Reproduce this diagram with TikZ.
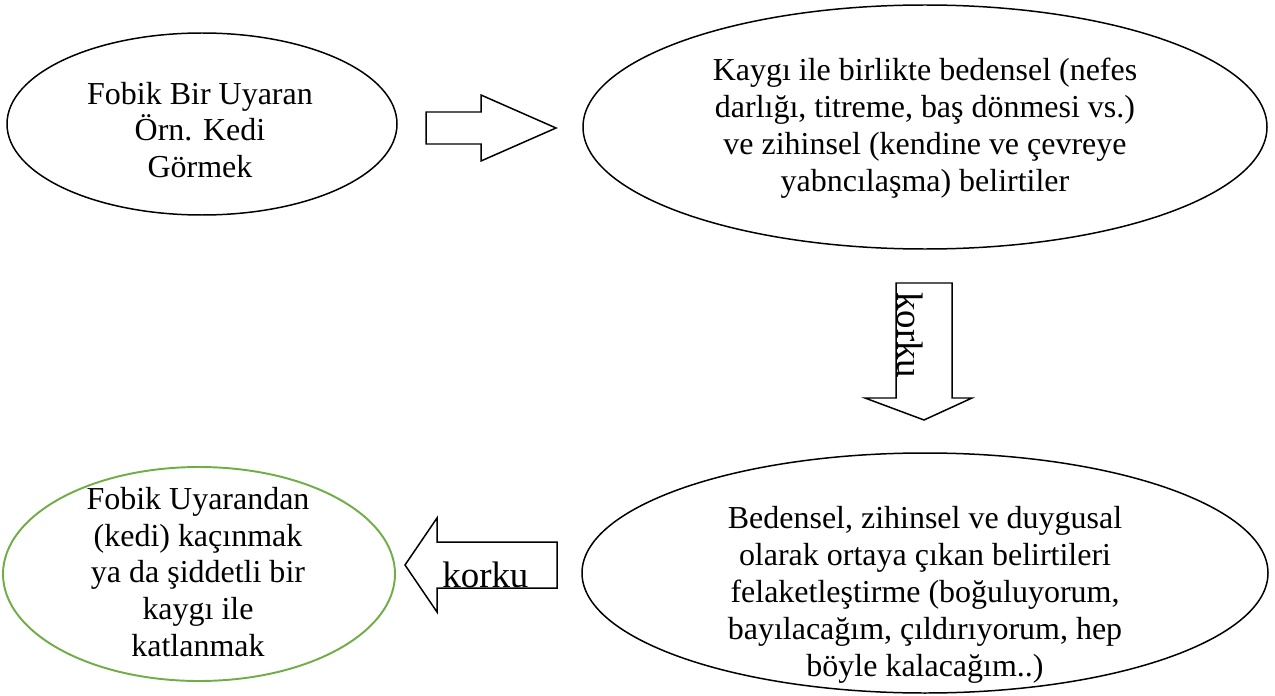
\documentclass[tikz,border=0pt]{standalone}
\usepackage{fontspec}
\setmainfont{Liberation Serif}
\usetikzlibrary{shapes.geometric}
\definecolor{leafgreen}{RGB}{112,173,71}
\begin{document}
\begin{tikzpicture}[x=0.02cm,y=-0.02cm,
  oval/.style={draw=black,line width=0.85pt,ellipse,inner sep=0pt},
  txt/.style={align=center,font=\fontsize{18.2}{21}\selectfont,inner sep=0pt},
  blockarrow/.style={draw=black,line width=0.85pt,fill=white,line join=miter},
  lbl/.style={font=\fontsize{21}{24}\selectfont,inner sep=0pt}]
\useasboundingbox (0,0) rectangle (1275,696);
% ellipses
\node[oval,minimum width=390*0.02cm,minimum height=182*0.02cm] (e1) at (202,124) {};
\node[oval,minimum width=684*0.02cm,minimum height=244*0.02cm] (e2) at (925,127) {};
\node[oval,minimum width=686*0.02cm,minimum height=240*0.02cm] (e3) at (925,573) {};
\node[oval,draw=leafgreen,line width=1.1pt,minimum width=392*0.02cm,minimum height=214*0.02cm] (e4) at (199,574) {};
% texts
\node[txt] (t1) at (200,130) {Fobik Bir Uyaran\\Örn. Kedi\\Görmek};
\node[txt] (t2) at (925,128.5) {Kaygı ile birlikte bedensel (nefes\\darlığı, titreme, baş dönmesi vs.)\\ve zihinsel (kendine ve çevreye\\yabncılaşma) belirtiler};
\node[txt] (t3) at (925,595) {Bedensel, zihinsel ve duygusal\\olarak ortaya çıkan belirtileri\\felaketleştirme (boğuluyorum,\\bayılacağım, çıldırıyorum, hep\\böyle kalacağım..)};
\node[txt] (t4) at (198,572) {Fobik Uyarandan\\(kedi) kaçınmak\\ya da şiddetli bir\\kaygı ile\\katlanmak};
% block arrows
\draw[blockarrow] (426,112) -- (481,112) -- (481,95) -- (556,128) -- (481,161) -- (481,144) -- (426,144) -- cycle;
\draw[blockarrow] (896,283) -- (952,283) -- (952,398) -- (972,398) -- (924,420) -- (865,398) -- (896,398) -- cycle;
\draw[blockarrow] (557,542) -- (437,542) -- (437,518) -- (405,565) -- (437,612) -- (437,588) -- (557,588) -- cycle;
\node[lbl,anchor=base west] (k1) at (442,587) {korku};
\node[lbl,anchor=base west,rotate=-90] (k2) at (897,292) {korku};
\end{tikzpicture}
\end{document}
